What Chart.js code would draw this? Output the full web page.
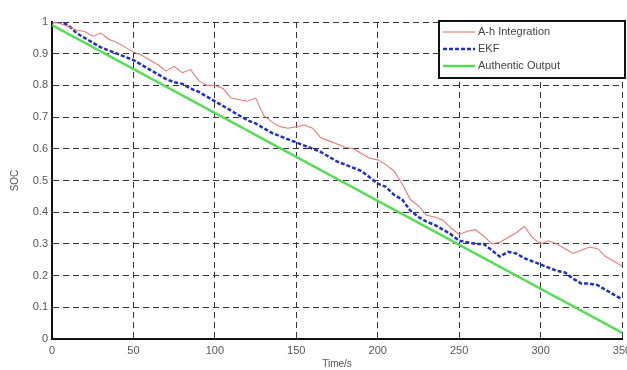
<!DOCTYPE html>
<html lang="en">

<head>
  <meta charset="UTF-8">
  <script src="https://cdn.jsdelivr.net/npm/chart.js@4"></script>
  <title>SOC estimation</title>
  <style>
    html, body { margin: 0; padding: 0; background: #fff; overflow: hidden; }
    .container { width: 627px; height: 370px; }
  </style>
</head>

<body>
  <div class="container">
    <canvas id="socChart"></canvas>
  </div>

  <script>
    // time axis (s)
    const timeSec = [0, 5, 10, 15, 20, 25, 30, 35, 40, 45, 50, 55, 60, 65, 70, 75, 80, 85, 90, 95,
      100, 105, 110, 115, 120, 125, 130, 135, 140, 145, 150, 155, 160, 165, 170, 175, 180, 185, 190, 195,
      200, 205, 210, 215, 220, 225, 230, 235, 240, 245, 250, 255, 260, 265, 270, 275, 280, 285, 290, 295,
      300, 305, 310, 315, 320, 325, 330, 335, 340, 345, 350];

    const ahIntegration = [1.0, 0.995, 0.985, 0.975, 0.97, 0.955, 0.965, 0.945, 0.935, 0.92,
      0.905, 0.895, 0.88, 0.865, 0.845, 0.86, 0.84, 0.85, 0.815, 0.80,
      0.80, 0.79, 0.76, 0.755, 0.75, 0.76, 0.705, 0.685, 0.67, 0.665,
      0.67, 0.675, 0.665, 0.635, 0.625, 0.615, 0.605, 0.60, 0.585, 0.57,
      0.565, 0.55, 0.53, 0.49, 0.44, 0.42, 0.39, 0.385, 0.375, 0.35,
      0.33, 0.34, 0.345, 0.325, 0.30, 0.305, 0.32, 0.335, 0.355, 0.32,
      0.30, 0.31, 0.30, 0.285, 0.27, 0.28, 0.29, 0.285, 0.26, 0.245, 0.23];

    const ekf = [1.0, 1.0, 0.99, 0.965, 0.95, 0.935, 0.92, 0.91, 0.9, 0.89,
      0.88, 0.865, 0.85, 0.835, 0.82, 0.81, 0.805, 0.79, 0.78, 0.765,
      0.75, 0.735, 0.72, 0.705, 0.69, 0.68, 0.665, 0.65, 0.64, 0.63,
      0.62, 0.61, 0.60, 0.59, 0.575, 0.56, 0.55, 0.54, 0.53, 0.51,
      0.49, 0.48, 0.455, 0.44, 0.405, 0.385, 0.37, 0.36, 0.345, 0.33,
      0.31, 0.305, 0.30, 0.30, 0.28, 0.26, 0.275, 0.27, 0.255, 0.245,
      0.235, 0.225, 0.215, 0.21, 0.19, 0.175, 0.175, 0.17, 0.155, 0.14, 0.125];

    const authenticTime = [0, 350];
    const authenticOutput = [0.99, 0.02];

    const xTicks = [0, 50, 100, 150, 200, 250, 300, 350];
    const yTicks = [0, 0.1, 0.2, 0.3, 0.4, 0.5, 0.6, 0.7, 0.8, 0.9, 1];

    function toPoints(xs, ys) {
      return xs.map((x, i) => ({ x: x, y: ys[i] }));
    }

    // legend drawn as a boxed MATLAB-style legend in the top right corner
    const boxLegend = {
      id: 'boxLegend',
      afterDatasetsDraw(chart) {
        const ctx = chart.ctx;
        const area = chart.chartArea;
        const w = 186, h = 57;
        const left = area.right + 3 - w, top = area.top - 1;
        ctx.save();
        ctx.fillStyle = '#fff';
        ctx.fillRect(left, top, w, h);
        ctx.lineWidth = 2;
        ctx.strokeStyle = '#111';
        ctx.strokeRect(left, top, w, h);
        ctx.font = '11px "Liberation Sans", Arial, sans-serif';
        ctx.textBaseline = 'middle';
        [0, 1, 2].forEach((i) => {
          const ds = chart.data.datasets[i];
          const y = top + 11 + i * 17;
          ctx.beginPath();
          ctx.setLineDash(ds.borderDash || []);
          ctx.strokeStyle = ds.borderColor;
          ctx.lineWidth = ds.borderWidth;
          ctx.moveTo(left + 4, y);
          ctx.lineTo(left + 36, y);
          ctx.stroke();
          ctx.setLineDash([]);
          ctx.fillStyle = '#444';
          ctx.fillText(ds.label, left + 39, y);
        });
        ctx.restore();
      }
    };

    const tickFont = { family: '"Liberation Sans", Arial, sans-serif', size: 11 };

    const ctx = document.getElementById('socChart').getContext('2d');
    const chart = new Chart(ctx, {
      type: 'line',
      data: {
        datasets: [
          {
            label: 'A-h Integration',
            data: toPoints(timeSec, ahIntegration),
            borderColor: '#e87878',
            borderWidth: 1.1,
            pointRadius: 0,
            order: 1
          },
          {
            label: 'EKF',
            data: toPoints(timeSec, ekf),
            borderColor: '#2030c8',
            borderWidth: 2.5,
            borderDash: [4, 2],
            pointRadius: 0,
            order: 2
          },
          {
            label: 'Authentic Output',
            data: toPoints(authenticTime, authenticOutput),
            borderColor: '#55dd55',
            borderWidth: 2.5,
            pointRadius: 0,
            order: 3
          }
        ]
      },
      options: {
        responsive: true,
        maintainAspectRatio: false,
        animation: false,
        layout: { padding: { top: 22, right: 5, left: 0, bottom: 0 } },
        plugins: {
          legend: { display: false },
          tooltip: { enabled: false }
        },
        scales: {
          x: {
            type: 'linear',
            min: 0,
            max: 350,
            afterBuildTicks: (scale) => { scale.ticks = xTicks.map(v => ({ value: v })); },
            afterFit: (scale) => { scale.height = 31; scale.paddingLeft = 0; scale.paddingRight = 0; },
            grid: { color: '#333', lineWidth: 1, drawTicks: false },
            border: { display: true, color: '#111', width: 2, dash: [6, 4] },
            ticks: {
              color: '#555',
              padding: 5,
              maxRotation: 0,
              font: tickFont,
              callback: (v) => String(v)
            },
            title: {
              display: true,
              text: 'Time/s',
              color: '#555',
              padding: { top: -3, bottom: 0 },
              font: { family: '"Liberation Sans", Arial, sans-serif', size: 10 }
            }
          },
          y: {
            min: 0,
            max: 1,
            afterBuildTicks: (scale) => { scale.ticks = yTicks.map(v => ({ value: v })); },
            afterFit: (scale) => { scale.width = 52; },
            grid: { color: '#333', lineWidth: 1, drawTicks: false },
            border: { display: true, color: '#111', width: 2, dash: [6, 4] },
            ticks: {
              color: '#555',
              padding: 4,
              font: tickFont,
              callback: (v) => String(v)
            },
            title: {
              display: true,
              text: 'SOC',
              color: '#555',
              padding: { top: 9, bottom: 0 },
              font: { family: '"Liberation Sans", Arial, sans-serif', size: 10 }
            }
          }
        }
      },
      plugins: [boxLegend]
    });
  </script>
</body>

</html>
